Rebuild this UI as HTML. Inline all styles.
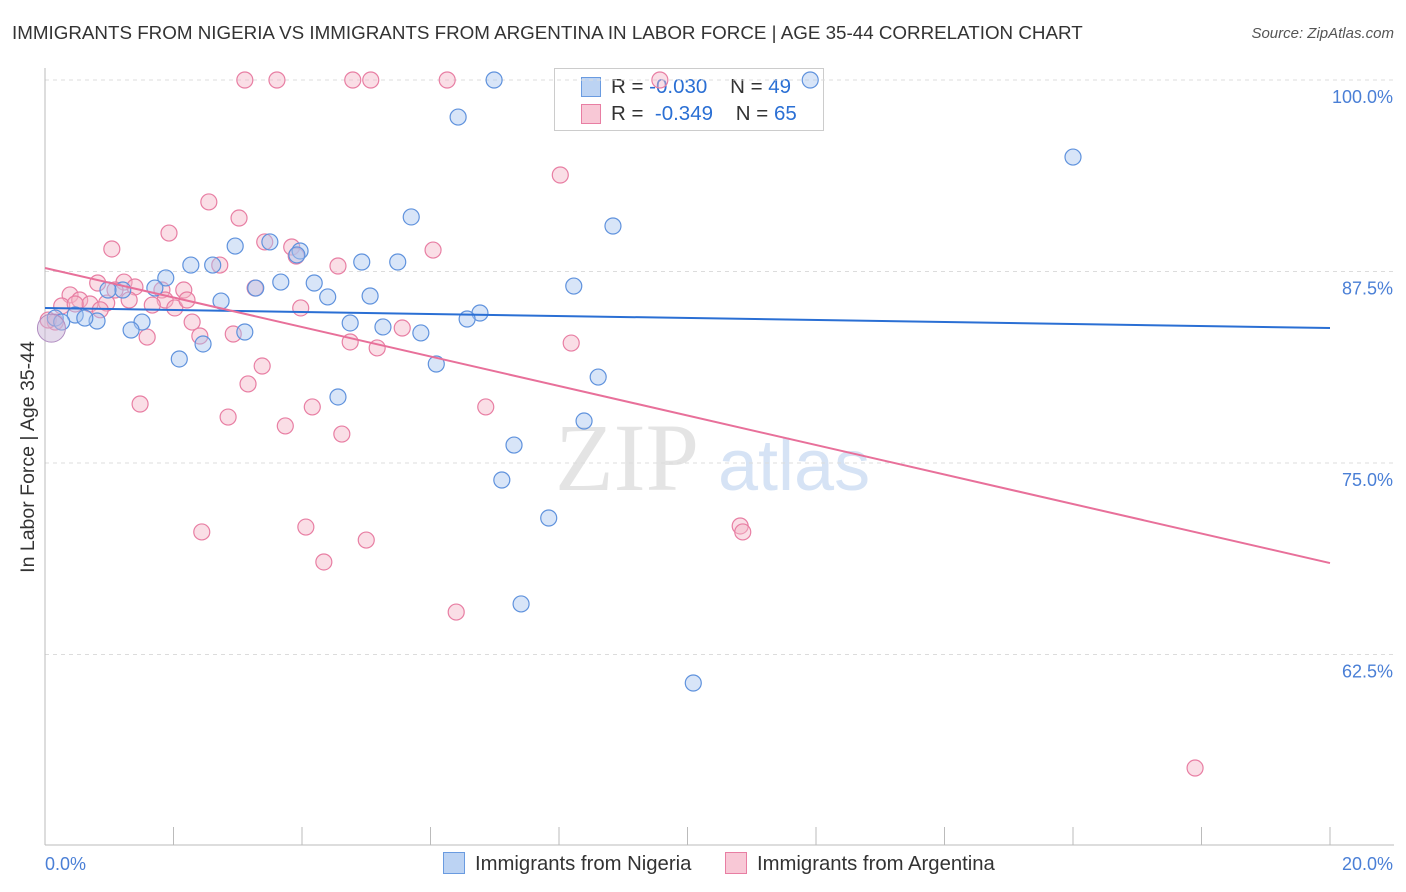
<!DOCTYPE html>
<html><head><meta charset="utf-8"><style>
body{margin:0;background:#fff;font-family:"Liberation Sans",sans-serif;}
#wrap{position:relative;width:1406px;height:892px;overflow:hidden;}
.t{position:absolute;white-space:nowrap;}
</style></head><body>
<div id="wrap">
<div class="t" style="left:12px;top:22px;font-size:18.8px;color:#333;">IMMIGRANTS FROM NIGERIA VS IMMIGRANTS FROM ARGENTINA IN LABOR FORCE | AGE 35-44 CORRELATION CHART</div>
<div class="t" style="right:12px;top:25px;font-size:15px;color:#555;font-style:italic;">Source: ZipAtlas.com</div>
<div class="t" style="left:554px;top:68px;width:268px;height:61px;border:1px solid #ccc;background:#fff;font-size:20.5px;color:#333;">
 <div style="position:absolute;left:26px;top:8px;width:18px;height:18px;background:#bcd3f3;border:1px solid #6a9be0;"></div>
 <div style="position:absolute;left:56px;top:6px;">R = <span style="color:#2a6fd4">-0.030</span>&nbsp;&nbsp;&nbsp; N = <span style="color:#2a6fd4">49</span></div>
 <div style="position:absolute;left:26px;top:35px;width:18px;height:18px;background:#f8c8d6;border:1px solid #e87ea3;"></div>
 <div style="position:absolute;left:56px;top:33px;">R = &nbsp;<span style="color:#2a6fd4">-0.349</span>&nbsp;&nbsp;&nbsp; N = <span style="color:#2a6fd4">65</span></div>
</div>
<svg id="svg" width="1406" height="892" style="position:absolute;left:0;top:0"></svg>
</div>
<script>
const yTicks=[100,87.5,75,62.5];
const yTickLabels=["100.0%","87.5%","75.0%","62.5%"];
const xTickLabels=["0.0%","20.0%"];
const nigeriaX=[6.99,11.91,6.43,16.0,5.70,8.84,2.96,3.50,3.97,3.92,2.27,2.61,4.93,5.49,1.88,3.67,4.19,1.71,1.21,3.28,8.23,2.74,4.40,5.06,0.98,6.77,6.57,0.16,0.47,0.81,0.26,0.62,1.51,1.34,4.75,5.26,5.85,3.11,2.46,2.09,6.09,8.61,4.56,8.39,7.30,7.11,7.84,7.41,10.09];
const nigeriaY=[100,100,97.58,94.97,91.06,90.47,89.16,89.43,88.84,88.58,87.92,87.92,88.12,88.12,87.08,86.81,86.75,86.42,86.29,86.42,86.55,85.57,85.84,85.90,86.29,84.79,84.40,84.46,84.66,84.27,84.20,84.46,84.20,83.68,84.14,83.88,83.49,83.55,82.77,81.79,81.46,80.61,79.31,77.74,76.17,73.89,71.41,65.8,60.64];
const argX=[3.11,3.61,4.79,5.07,6.26,9.57,8.02,2.55,3.02,1.93,1.04,3.42,3.84,6.04,2.72,3.91,4.56,1.23,0.82,0.39,1.40,1.82,2.16,0.54,0.96,1.31,0.70,0.26,1.87,2.02,3.98,1.67,2.29,2.41,1.59,2.93,4.75,5.17,5.56,8.19,3.38,3.16,1.48,4.16,6.86,2.85,3.74,4.62,10.82,10.86,2.44,4.06,5.0,4.34,6.40,17.9,0.16,0.05,3.27,0.47,1.09,2.21,0.86];
const argY=[100,100,100,100,100,100,93.8,92.04,90.99,90.01,88.97,89.43,89.1,88.9,87.92,88.51,87.86,86.81,86.75,85.97,86.49,86.29,86.29,85.64,85.44,85.64,85.38,85.25,85.64,85.12,85.12,85.31,84.20,83.29,83.22,83.42,82.9,82.51,83.81,82.83,81.33,80.16,78.85,78.66,78.66,78.0,77.42,76.89,70.89,70.5,70.5,70.82,69.97,68.54,65.27,55.09,84.2,84.33,86.42,85.38,86.29,85.64,85.0];
const nigeriaTrend=[85.12,83.81];
const argTrend=[87.73,68.47];
const NS="http://www.w3.org/2000/svg";
const svg=document.getElementById('svg');
const xs=v=>45+v/20*1285;
const ys=v=>80+(100-v)/12.5*191.5;
function mk(tag,attrs){const e=document.createElementNS(NS,tag);for(const k in attrs)e.setAttribute(k,attrs[k]);svg.appendChild(e);return e;}
let w=mk('text',{x:555,y:490,'font-size':96,'font-family':'Liberation Serif,serif',fill:'#e4e4e4'});w.textContent='ZIP';


let w2=mk('text',{x:718,y:490,'font-size':72,'font-family':'Liberation Sans,sans-serif',fill:'#d6e3f5'});w2.textContent='atlas';


yTicks.forEach((v,i)=>{
 let g=mk('line',{x1:45,x2:1394,y1:ys(v),y2:ys(v),stroke:'#dcdcdc','stroke-dasharray':'4,4'});
 
 
 let t=mk('text',{x:1393,y:ys(v)+23,'text-anchor':'end','font-size':18,fill:'#4a7fd6','font-family':'Liberation Sans,sans-serif'});t.textContent=yTickLabels[i];
 
 
});
let ax=mk('line',{x1:45,x2:1394,y1:845,y2:845,stroke:'#bbb'});


let ay=mk('line',{x1:45,x2:45,y1:68,y2:845,stroke:'#bbb'});


for(let i=1;i<=10;i++){let tk=mk('line',{x1:xs(i*2),x2:xs(i*2),y1:827,y2:845,stroke:'#bbb'});
 
 }
[[0,'start',45],[1,'end',1393]].forEach(([i,a,x])=>{let t=mk('text',{x:x,y:870,'text-anchor':a,'font-size':18,fill:'#4a7fd6','font-family':'Liberation Sans,sans-serif'});t.textContent=xTickLabels[i];
 
 });
let yt=mk('text',{x:34,y:457,'text-anchor':'middle','font-size':19.5,fill:'#333',transform:'rotate(-90 34 457)','font-family':'Liberation Sans,sans-serif'});yt.textContent='In Labor Force | Age 35-44';


function pts(X,Y,fill,stroke,name){X.forEach((x,i)=>{let c=mk('circle',{cx:xs(x),cy:ys(Y[i]),r:8,fill:fill,'fill-opacity':0.45,stroke:stroke,'stroke-width':1.2});
 
 });}
pts(argX,argY,'#f4b6c8','#e87ea3','argentina-point');
pts(nigeriaX,nigeriaY,'#a9c6ef','#5f92dd','nigeria-point');
let big=mk('circle',{cx:xs(0.1),cy:ys(83.8),r:14,fill:'#c9b5d8','fill-opacity':0.5,stroke:'#b08cc0'});


let l1=mk('line',{x1:xs(0),x2:xs(20),y1:ys(nigeriaTrend[0]),y2:ys(nigeriaTrend[1]),stroke:'#2a6fd4','stroke-width':2});


let l2=mk('line',{x1:xs(0),x2:xs(20),y1:ys(argTrend[0]),y2:ys(argTrend[1]),stroke:'#e8709a','stroke-width':2});


</script>
<div class="t" style="left:443px;top:852px;font-size:20.3px;color:#333;"><span style="display:inline-block;width:20px;height:20px;background:#bcd3f3;border:1px solid #6a9be0;vertical-align:-4px;margin-right:10px;"></span>Immigrants from Nigeria</div>
<div class="t" style="left:725px;top:852px;font-size:20.3px;color:#333;"><span style="display:inline-block;width:20px;height:20px;background:#f8c8d6;border:1px solid #e87ea3;vertical-align:-4px;margin-right:10px;"></span>Immigrants from Argentina</div>
</body></html>
